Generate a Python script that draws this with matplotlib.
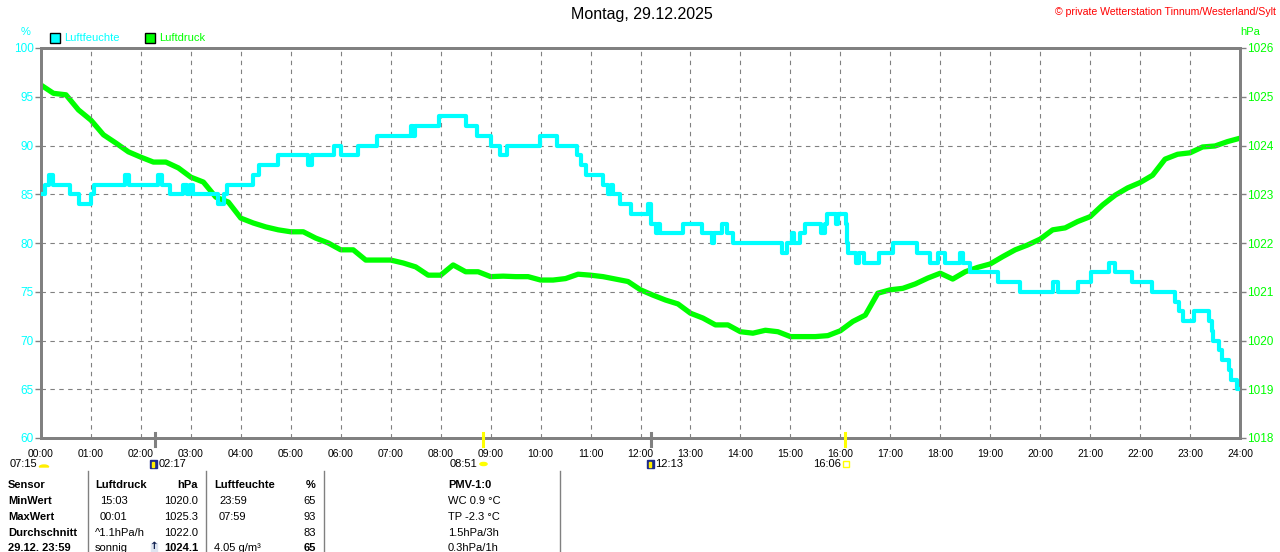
import matplotlib
matplotlib.use('Agg')
import matplotlib.pyplot as plt
from matplotlib.patches import Rectangle, Circle, Wedge
import numpy as np

plt.rcParams['font.family'] = ['Liberation Sans', 'DejaVu Sans']

W, H = 1280, 552

# Luftfeuchte (%), step values: change time (h) and new value
hum_t = [0.00, 0.08, 0.16, 0.24, 0.58, 0.76, 1.00, 1.06, 1.68, 1.76, 2.34, 2.42,
         2.58, 2.84, 2.92, 2.98, 3.04, 3.54, 3.66, 3.72, 4.24, 4.36, 4.74, 5.34,
         5.42, 5.86, 6.00, 6.34, 6.72, 7.40, 7.44, 7.48, 7.96, 8.51, 8.73, 9.00,
         9.19, 9.32, 9.98, 10.33, 10.72, 10.80, 10.90, 11.24, 11.34, 11.40, 11.45,
         11.58, 11.80, 12.16, 12.21, 12.31, 12.36, 12.40, 12.48, 12.86, 12.90,
         13.24, 13.44, 13.48, 13.63, 13.74, 13.86, 14.84, 14.93, 15.04, 15.08,
         15.20, 15.29, 15.62, 15.69, 15.73, 15.92, 15.96, 16.12, 16.14, 16.16,
         16.32, 16.38, 16.48, 16.78, 17.06, 17.54, 17.80, 17.96, 18.10, 18.40,
         18.46, 18.60, 19.16, 19.60, 20.26, 20.36, 20.76, 21.02, 21.38, 21.50,
         21.84, 22.24, 22.70, 22.78, 22.86, 23.08, 23.38, 23.44, 23.46, 23.58,
         23.64, 23.78, 23.82, 23.94, 24.00]
hum_v = [85, 86, 87, 86, 85, 84, 85, 86, 87, 86, 87, 86,
         85, 86, 85, 86, 85, 84, 85, 86, 87, 88, 89, 88,
         89, 90, 89, 90, 91, 92, 91, 92, 93, 92, 91, 90,
         89, 90, 91, 90, 89, 88, 87, 86, 85, 86, 85,
         84, 83, 84, 82, 81, 82, 81, 81, 82, 82,
         81, 80, 81, 82, 81, 80, 79, 80, 81, 80,
         81, 82, 81, 82, 83, 82, 83, 82, 80, 79,
         78, 79, 78, 79, 80, 79, 78, 79, 78, 79,
         78, 77, 76, 75, 76, 75, 76, 77, 78, 77,
         76, 75, 74, 73, 72, 73, 72, 71, 70, 69,
         68, 67, 66, 65, 65]

# Luftdruck (hPa) every 15 minutes
druck_t = np.arange(0, 24.01, 0.25)
druck_v = [1025.24, 1025.07, 1025.04, 1024.73, 1024.52, 1024.22, 1024.05, 1023.87,
           1023.76, 1023.66, 1023.66, 1023.54, 1023.35, 1023.25, 1022.94, 1022.84,
           1022.51, 1022.41, 1022.33, 1022.27, 1022.23, 1022.23, 1022.10, 1022.00,
           1021.86, 1021.86, 1021.65, 1021.65, 1021.65, 1021.59, 1021.51, 1021.34,
           1021.34, 1021.55, 1021.41, 1021.41, 1021.31, 1021.32, 1021.31, 1021.31,
           1021.24, 1021.24, 1021.27, 1021.36, 1021.34, 1021.31, 1021.26, 1021.21,
           1021.04, 1020.93, 1020.83, 1020.75, 1020.56, 1020.46, 1020.32, 1020.32,
           1020.18, 1020.15, 1020.21, 1020.18, 1020.08, 1020.08, 1020.08, 1020.10,
           1020.20, 1020.39, 1020.52, 1020.97, 1021.04, 1021.07, 1021.16, 1021.28,
           1021.38, 1021.26, 1021.41, 1021.50, 1021.57, 1021.72, 1021.86, 1021.96,
           1022.08, 1022.27, 1022.31, 1022.44, 1022.54, 1022.78, 1022.98, 1023.13,
           1023.24, 1023.39, 1023.72, 1023.82, 1023.85, 1023.97, 1023.99, 1024.08,
           1024.15]

hour_labels = ['%02d:00' % h for h in range(25)]

# sun / moon events below the time axis
event_times = [2 + 17 / 60, 8 + 51 / 60, 12 + 13 / 60, 16 + 6 / 60]
event_colors = ['#808080', '#ffff00', '#808080', '#ffff00']

# statistics table
table_rows = [
    ['Sensor', 'Luftdruck', 'hPa', 'Luftfeuchte', '%', 'PMV-1:0'],
    ['MinWert', '15:03', '1020.0', '23:59', '65', 'WC 0.9 °C'],
    ['MaxWert', '00:01', '1025.3', '07:59', '93', 'TP -2.3 °C'],
    ['Durchschnitt', '^1.1hPa/h', '1022.0', '', '83', '1.5hPa/3h'],
    ['29.12. 23:59', 'sonnig', '1024.1', '4.05 g/m³', '65', '0.3hPa/1h'],
]

CYAN = '#00ffff'
GREEN = '#00ff00'
GREY = '#808080'

fig = plt.figure(figsize=(W / 100, H / 100), dpi=100)
ax = fig.add_axes([41 / W, 1 - 438 / H, 1199 / W, 390 / H])
ax2 = ax.twinx()


def fx(x):
    return x / W


def fy(y):
    return 1 - y / H


# grid
for h in range(1, 24):
    ax.axvline(h, color=GREY, lw=0.8, ls=(0, (4, 4)), zorder=0)
for v in range(65, 100, 5):
    ax.axhline(v, color=GREY, lw=0.8, ls=(0, (4, 4)), zorder=0)

ax.step(hum_t, hum_v, where='post', color=CYAN, lw=3.0, zorder=3)
ax2.plot(druck_t, druck_v, color=GREEN, lw=3.8, zorder=3)
ax.set_zorder(ax2.get_zorder() + 1)
ax.patch.set_visible(False)

ax.set_xlim(0, 24)
ax.set_ylim(60, 100)
ax2.set_ylim(1018, 1026)
ax.set_xticks(range(25))
ax.set_xticklabels(hour_labels, fontsize=7.5, color='black')
ax.set_yticks(range(60, 101, 5))
ax.tick_params(axis='y', colors=GREY, labelcolor=CYAN, labelsize=8.5,
               length=4, width=1, direction='out', pad=1)
ax.tick_params(axis='x', length=0, pad=8)
ax2.set_yticks(range(1018, 1027))
ax2.tick_params(axis='y', colors=GREY, labelcolor=GREEN, labelsize=8.5,
                length=4, width=1, direction='out', pad=1)
for a in (ax, ax2):
    for s in a.spines.values():
        s.set_color(GREY)
        s.set_linewidth(2)

# event markers crossing the bottom axis
for t, c in zip(event_times, event_colors):
    ax.plot([t, t], [-0.02, 0.012], color=c, lw=2.2, clip_on=False,
            transform=ax.get_xaxis_transform(), zorder=6)

# labels and icons under the axis
ty = 464
fig.text(fx(37), fy(ty), '07:15', fontsize=8, ha='right', va='center')
fig.add_artist(Wedge((fx(44), fy(467)), 0.0036, 0, 180, color='#ffee00',
                     transform=fig.transFigure))
for t, lab, side in zip(event_times, ['02:17', '08:51', '12:13', '16:06'],
                        ['moon', 'sun', 'moon', 'box']):
    px = 41 + t * 50
    if side == 'moon':
        fig.add_artist(Rectangle((fx(px - 5), fy(ty + 4)), 7 / W, 8 / H,
                                 color='#1c2a8c', transform=fig.transFigure))
        fig.add_artist(Rectangle((fx(px - 3), fy(ty + 3)), 2 / W, 5 / H,
                                 color='#ffee00', transform=fig.transFigure))
        fig.text(fx(px + 3), fy(ty), lab, fontsize=8, ha='left', va='center')
    elif side == 'sun':
        fig.add_artist(Circle((fx(px), fy(ty)), 0.0028, color='#ffff00',
                              transform=fig.transFigure))
        fig.text(fx(px - 6), fy(ty), lab, fontsize=8, ha='right', va='center')
    else:
        fig.add_artist(Rectangle((fx(px - 3), fy(ty + 3)), 6 / W, 6 / H,
                                 fill=False, ec='#ffff00', lw=1,
                                 transform=fig.transFigure))
        fig.text(fx(px - 5), fy(ty), lab, fontsize=8, ha='right', va='center')

# titles and legend
fig.text(fx(642), fy(15), 'Montag, 29.12.2025', fontsize=11.5, ha='center', va='center')
fig.text(fx(1276), fy(12), '© private Wetterstation Tinnum/Westerland/Sylt',
         fontsize=7.6, color='#ff0000', ha='right', va='center')
fig.text(fx(26), fy(32), '%', fontsize=8, color=CYAN, ha='center', va='center')
fig.text(fx(1250), fy(32), 'hPa', fontsize=8, color=GREEN, ha='center', va='center')
fig.add_artist(Rectangle((fx(50), fy(43)), 10 / W, 10 / H, fc=CYAN, ec='black',
                         lw=1, transform=fig.transFigure))
fig.text(fx(64), fy(38), 'Luftfeuchte', fontsize=8, color=CYAN, va='center')
fig.add_artist(Rectangle((fx(145), fy(43)), 10 / W, 10 / H, fc=GREEN, ec='black',
                         lw=1, transform=fig.transFigure))
fig.text(fx(159), fy(38), 'Luftdruck', fontsize=8, color=GREEN, va='center')

# table
for lx in (88, 206, 324, 560):
    fig.add_artist(plt.Line2D([fx(lx), fx(lx)], [fy(471), 0], color=GREY, lw=1))
row_y = [485, 501, 517, 533, 548]
col_x = [(8, 'left'), (95, 'left'), (198, 'right'), (214, 'left'), (316, 'right'),
         (448, 'left')]
indent = {1: 5, 3: 5}
for r, (row, y) in enumerate(zip(table_rows, row_y)):
    for c, txt in enumerate(row):
        x, ha = col_x[c]
        if 1 <= r <= 2 and c in indent:
            x += indent[c]
        bold = r == 0 or c == 0 or (r == 4 and c in (2, 4))
        if r == 0 and c == 5:
            bold = True
        elif c == 5:
            bold = False
        fig.text(fx(x), fy(y), txt, fontsize=8, ha=ha, va='center',
                 fontweight='bold' if bold else 'normal')
# arrow icon before current pressure
fig.add_artist(Rectangle((fx(151), fy(553)), 6 / W, 10 / H, color='#dde4f0',
                         transform=fig.transFigure))
fig.text(fx(154), fy(546), '↑', fontsize=7.5, ha='center', va='center',
         fontweight='bold', color='#102050', family=['DejaVu Sans'])

fig.savefig('out.png', dpi=100)
